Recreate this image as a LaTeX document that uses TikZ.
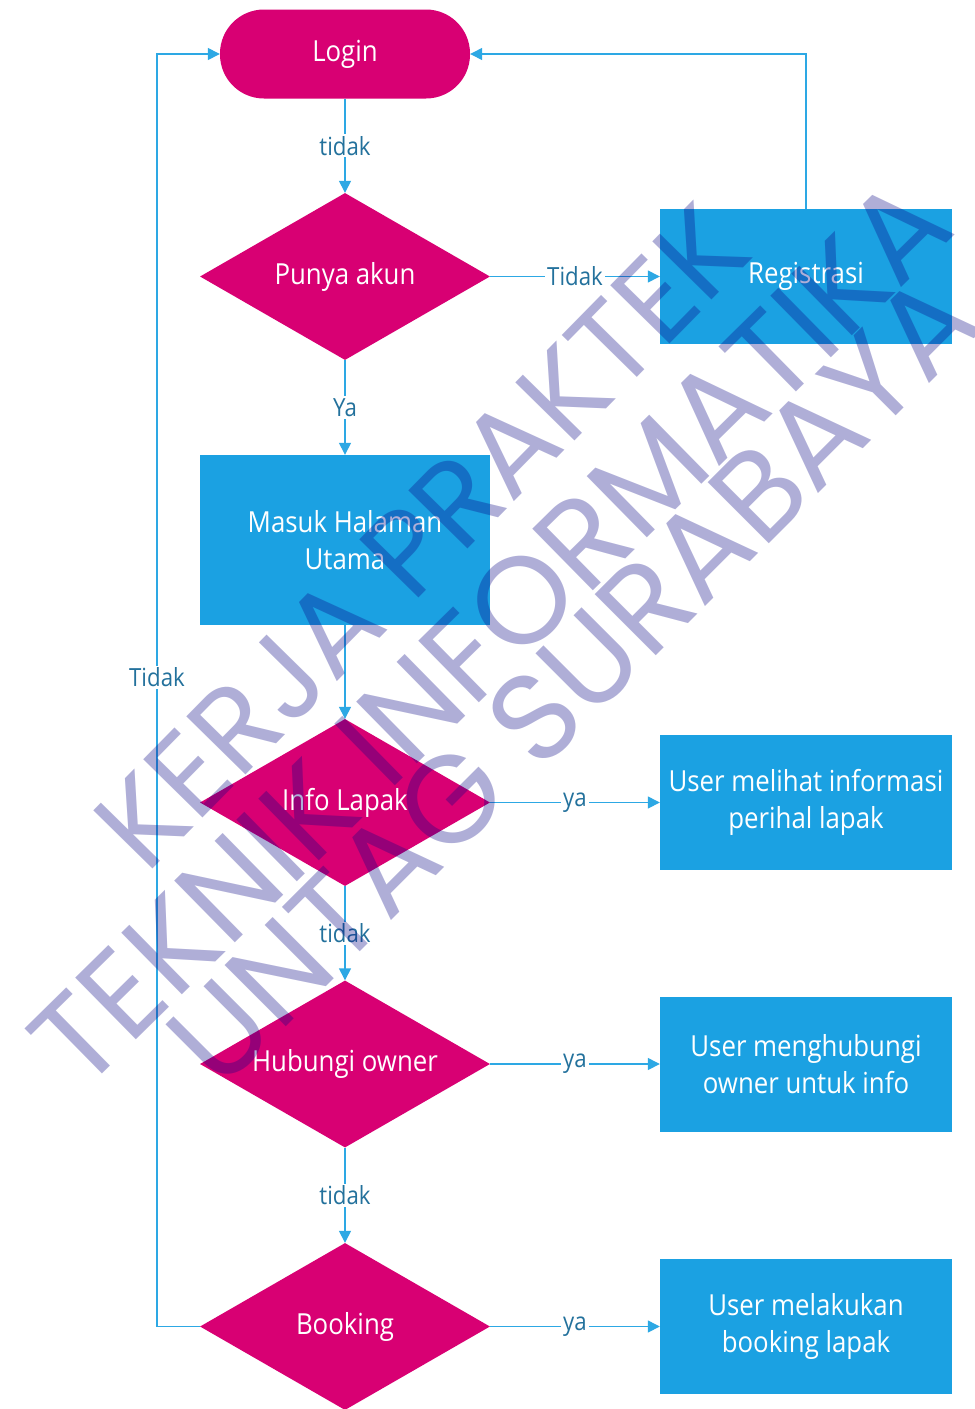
\documentclass[tikz,border=0pt]{standalone}
\usepackage{fontspec}
\setmainfont{Open Sans}[FakeStretch=0.89]
\newfontfamily\wmfont{Poppins}
\usetikzlibrary{shapes.geometric,arrows.meta}

\definecolor{magentafill}{HTML}{D80073}
\definecolor{bluefill}{HTML}{1BA1E2}
\definecolor{flowline}{HTML}{2DA8E4}
\definecolor{labelink}{HTML}{23719C}
\definecolor{wmink}{RGB}{8,5,133}

\tikzset{
  boxtext/.style={text=white, align=center, font=\fontsize{29}{37}\selectfont},
  terminal/.style={boxtext, rectangle, fill=magentafill, rounded corners=44pt,
    minimum width=250pt, minimum height=89pt},
  decision/.style={boxtext, diamond, aspect=1.74, fill=magentafill, inner sep=0pt,
    minimum width=290pt, minimum height=167pt},
  process/.style={boxtext, rectangle, fill=bluefill,
    minimum width=292pt, minimum height=135pt},
  flow/.style={draw=flowline, line width=1.4pt, -{Triangle[length=12pt,width=12pt]}},
  flowlabel/.style={fill=white, text=labelink, inner sep=2pt,
    font=\fontsize{25}{30}\selectfont},
  watermark/.style={text=wmink, text opacity=0.32,
    font=\wmfont\fontsize{124}{124}\selectfont}
}

\begin{document}
\begin{tikzpicture}[x=1pt,y=-1pt]
  \useasboundingbox (0,0) rectangle (975,1409);
  \fill[white] (0,0) rectangle (975,1409);

  % main column
  \node[terminal] (login) at (345,54) {Login};
  \node[decision] (punya) at (345,276.5) {Punya akun};
  \node[process, minimum width=290pt, minimum height=170pt] (masuk) at (345,540) {Masuk Halaman\\Utama};
  \node[decision] (info) at (345,802.5) {Info Lapak};
  \node[decision] (hub) at (345,1064) {Hubungi owner};
  \node[decision] (book) at (345,1326.5) {Booking};

  % right column
  \node[process] (reg) at (806,276.5) {Registrasi};
  \node[process] (lihat) at (806,802.5) {User melihat informasi\\perihal lapak};
  \node[process] (kontak) at (806,1064) {User menghubungi\\owner untuk info};
  \node[process] (pesan) at (806,1326.5) {User melakukan\\booking lapak};

  % connectors
  \draw[flow] (login) -- node[flowlabel] {tidak} (punya);
  \draw[flow] (punya) -- node[flowlabel] {Tidak} (reg);
  \draw[flow] (punya) -- node[flowlabel] {Ya} (masuk);
  \draw[flow] (masuk) -- (info);
  \draw[flow] (info) -- node[flowlabel] {ya} (lihat);
  \draw[flow] (info) -- node[flowlabel] {tidak} (hub);
  \draw[flow] (hub) -- node[flowlabel] {ya} (kontak);
  \draw[flow] (hub) -- node[flowlabel] {tidak} (book);
  \draw[flow] (book) -- node[flowlabel] {ya} (pesan);
  \draw[flow] (reg.north) |- (login.east);
  \coordinate (loop) at (157,0);
  \draw[flow] (book.west) -- (book.west -| loop)
    -- node[flowlabel, pos=0.51] {Tidak} (login.west -| loop) -- (login.west);

  % diagonal watermark
  \node[watermark, rotate=45.5, font=\wmfont\fontsize{119}{119}\selectfont] (wm1) at (422,537) {KERJA PRAKTEK};
  \node[watermark, rotate=44.5] (wm2) at (490,632) {TEKNIK INFORMATIKA};
  \node[watermark, rotate=45] (wm3) at (572,679) {UNTAG SURABAYA};
\end{tikzpicture}
\end{document}
